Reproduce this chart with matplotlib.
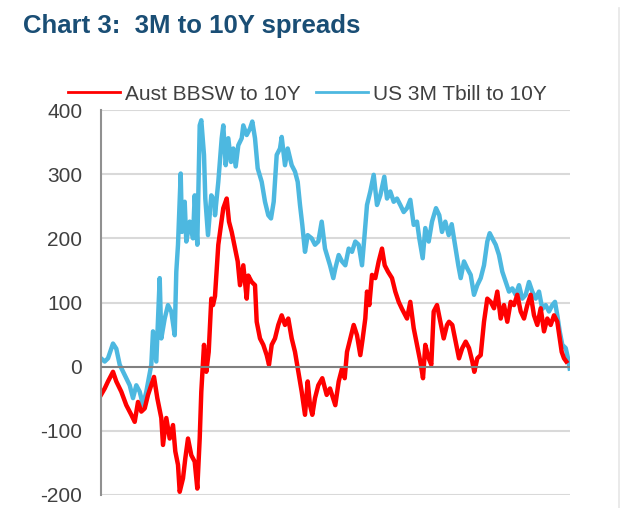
import matplotlib
matplotlib.use("Agg")
import matplotlib.pyplot as plt
from matplotlib.lines import Line2D

# ---- data (time index in arbitrary units, values in bp) ----
us_t = [0, 3.7, 7, 12, 15.3, 18.7, 23.7, 28.7, 32, 35.3, 38.7, 42, 45.3, 50.3, 52, 55.3,
        58.7, 60.3, 63.7, 67, 70.3, 73.7, 75.3, 77, 79.7, 81, 83.7, 85.3, 88.7, 92, 93.7,
        96.3, 98.7, 100.3, 103, 104.3, 107, 110.3, 113.7, 114, 117.3, 120.7, 122.3, 124.7,
        127.3, 130, 132.3, 134.7, 137.3, 140.7, 142.3, 145.7, 149, 151.3, 154, 156.7, 160.7,
        164, 167.3, 170, 172.7, 175.7, 179, 180.7, 184, 186.7, 190.7, 194, 196.7, 199, 201.3,
        204, 206.7, 210.7, 214, 217.3, 220.7, 224, 229, 232.3, 234.3, 237.7, 241, 244.3,
        247.7, 251, 254.3, 257.7, 261, 263.3, 266, 269.3, 272.7, 276, 279.3, 283.3, 286,
        289.3, 292.7, 296, 299.3, 302.7, 306, 309.3, 312.7, 316, 318.3, 321.7, 324.3, 327.7,
        331, 335, 338.3, 341, 344.3, 347.7, 350.7, 354, 357.3, 359.7, 363, 366.3, 369.7, 373,
        376.3, 379.7, 383, 386.3, 388.7, 391.3, 394.7, 398, 401.3, 404.7, 408, 411.3, 414.7,
        418, 421.3, 424.7, 428, 431.3, 434.7, 438, 441.3, 444.7, 448, 451.3, 454, 456.3,
        458.7, 461.3, 464.7, 467, 468.7]
us_v = [13, 8, 13, 36, 28, 3, -13, -29, -49, -29, -39, -60, -39, 3, 55, 8,
        138, 44, 75, 96, 86, 49, 148, 190, 301, 210, 257, 195, 226, 200, 267,
        190, 376, 384, 330, 262, 205, 267, 257, 236, 288, 356, 376, 314,
        356, 319, 340, 312, 345, 356, 376, 361, 371, 382, 356, 309, 288,
        257, 236, 231, 257, 330, 340, 358, 314, 340, 314, 304, 288, 252, 221,
        179, 205, 200, 190, 195, 226, 184, 158, 138, 153, 174, 164, 158,
        184, 179, 195, 190, 158, 200, 252, 273, 299, 252, 267, 296, 262,
        273, 257, 262, 252, 241, 247, 260, 221, 226, 200, 169, 216, 195,
        226, 247, 236, 210, 226, 205, 222, 190, 158, 138, 164, 153, 143, 112,
        127, 138, 158, 195, 208, 200, 190, 174, 148, 132, 117, 122, 112,
        127, 106, 112, 132, 117, 106, 117, 90, 96, 86, 96, 101, 80,
        55, 34, 29, 13, -3]

au_t = [0, 3.7, 7, 12, 15.3, 20.3, 25.3, 30.3, 33.7, 37, 40.3, 43.7, 47, 53, 56.3, 60.3,
        62, 65.3, 68.7, 72, 74.3, 77, 78.7, 82, 84.3, 87, 90.3, 93.7, 96.3, 98.7, 100.3,
        103, 105.3, 107.7, 110.3, 112, 114, 117.3, 122.3, 125.7, 128, 130.7, 133.3, 136.7,
        139, 142.3, 145.7, 147.3, 150.7, 154, 155.7, 159, 162.3, 165.7, 168, 170.7, 174,
        177.3, 180.7, 184, 187.3, 190.7, 194, 197.3, 200.7, 204, 206.7, 209, 211.3, 214,
        217.3, 221.3, 225.7, 229, 231, 234.3, 237.7, 241, 243.7, 246, 249.3, 252.7, 256,
        259.3, 261.7, 264.3, 266, 268.3, 271, 274.3, 277.7, 281, 283.7, 287, 291, 294.3,
        297.7, 301, 306, 309.3, 312.7, 316, 319.3, 322, 324.3, 327.7, 330.3, 332.7, 336,
        339.3, 342.7, 346, 348, 351.3, 354.7, 358, 361.3, 364.7, 368, 371.3, 373.3, 376.3,
        379.7, 383, 386.3, 389.7, 393, 396.3, 399.7, 403, 406.3, 409.7, 413, 416.3, 419.7,
        423, 426.3, 429.7, 433, 436.3, 439.7, 443, 446.3, 449.7, 453, 456.3, 458.7, 460.7,
        463, 465.3]
au_v = [-44, -34, -23, -8, -23, -39, -60, -75, -86, -55, -70, -65, -44, -16, -49, -80,
        -122, -80, -112, -91, -132, -153, -195, -174, -143, -112, -138, -148, -190, -112, -39,
        34, -8, 23, 106, 96, 110, 190, 247, 262, 226, 210, 190, 164,
        127, 158, 106, 142, 132, 127, 70, 44, 34, 18, 3, 34, 44,
        65, 80, 65, 75, 44, 23, -8, -39, -75, -23, -60, -75, -49,
        -29, -18, -44, -34, -44, -60, -23, -3, -18, 23, 44, 65, 49,
        18, 44, 75, 117, 96, 143, 138, 164, 184, 158, 148, 138, 117,
        101, 90, 75, 101, 60, 34, 8, -18, 34, 13, 3, 86, 96,
        70, 44, 65, 70, 65, 39, 13, 29, 39, 29, 8, -8, 13,
        18, 70, 106, 101, 91, 117, 75, 96, 70, 101, 96, 112, 86,
        75, 96, 112, 80, 65, 91, 55, 75, 65, 80, 70, 44, 23,
        13, 8]

series_labels = ["Aust BBSW to 10Y", "US 3M Tbill to 10Y"]
y_ticks = [-200, -100, 0, 100, 200, 300, 400]

# ---- styling ----
plt.rcParams['font.family'] = ['Liberation Sans', 'DejaVu Sans']
RED = "#FF0000"
BLUE = "#4DB8E0"
TXT = "#404040"

fig = plt.figure(figsize=(6.25, 5.08), dpi=100)
ax = fig.add_axes([101 / 625, 1 - 495 / 508, (570 - 101) / 625, (495 - 110) / 508])

for y in y_ticks:
    if y != 0:
        ax.axhline(y, color="#D9D9D9", lw=1.5, zorder=0)
ax.axhline(0, color="#808080", lw=1.5, zorder=3)

lb, = ax.plot(us_t, us_v, color=BLUE, lw=3.2, zorder=2, solid_joinstyle="round")
lr, = ax.plot(au_t, au_v, color=RED, lw=3.2, zorder=2.5, solid_joinstyle="round")

ax.set_xlim(0, 469)
ax.set_ylim(-200, 400)
ax.set_yticks(y_ticks)
ax.set_yticklabels([str(v) for v in y_ticks], fontsize=15, color=TXT)
ax.tick_params(axis="y", length=0, pad=13.5)
ax.set_xticks([])
for s in ["top", "right", "bottom"]:
    ax.spines[s].set_visible(False)
ax.spines["left"].set_color("#909090")
ax.spines["left"].set_linewidth(1.5)

fig.text(23 / 625, 1 - 33 / 508, "Chart 3:  3M to 10Y spreads", fontsize=18.5,
         fontweight="bold", color="#1A4E75", ha="left", va="baseline")

leg = fig.legend([lr, lb], series_labels, loc="center left",
                 bbox_to_anchor=(68 / 625, 1 - 94 / 508), ncol=2, frameon=False,
                 fontsize=15, handlelength=2.5, handletextpad=0.25,
                 columnspacing=0.72, borderaxespad=0, borderpad=0)
for t in leg.get_texts():
    t.set_color(TXT)
for h in leg.legend_handles:
    h.set_linewidth(2)

fig.add_artist(Line2D([619 / 625, 619 / 625], [0, 0.985], color="#E6E6E6", lw=1.2))

fig.savefig("out.png", dpi=100)
